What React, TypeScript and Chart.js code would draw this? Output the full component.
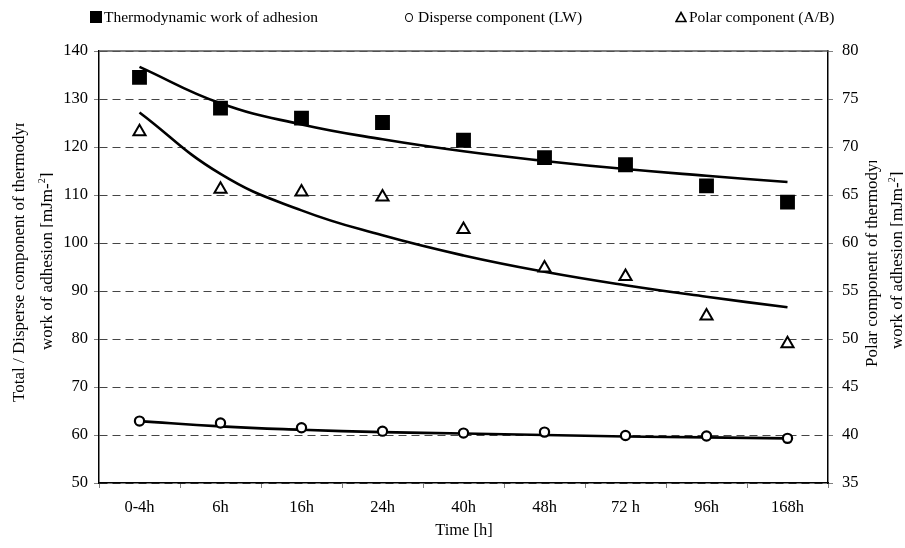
import React, { useEffect, useRef } from "react";
import { Chart, registerables } from "chart.js";

Chart.register(...registerables);

const categories = ["0-4h", "6h", "16h", "24h", "40h", "48h", "72 h", "96h", "168h"];
const totalWork = [134.5, 128.1, 126.0, 125.1, 121.4, 117.8, 116.3, 111.9, 108.5];
const disperseWork = [62.9, 62.5, 61.5, 60.8, 60.4, 60.6, 59.9, 59.8, 59.3];
const polarWork = [71.6, 65.6, 65.3, 64.8, 61.4, 57.4, 56.5, 52.4, 49.5];
const totalTrend = [136.7, 129.1, 124.7, 121.6, 119.1, 117.1, 115.4, 114.0, 112.7];
const disperseTrend = [62.9, 61.8, 61.1, 60.6, 60.3, 60.0, 59.7, 59.5, 59.3];
const polarTrend = [73.6, 67.2, 63.4, 60.8, 58.7, 57.0, 55.6, 54.4, 53.3];
const leftTicks = [50, 60, 70, 80, 90, 100, 110, 120, 130, 140];
const rightTicks = [35, 40, 45, 50, 55, 60, 65, 70, 75, 80];

const legendLabels = ["Thermodynamic work of adhesion", "Disperse component (LW)", "Polar component (A/B)"];
const xTitle = "Time [h]";
const leftTitle1 = "Total / Disperse component of thermodynamic";
const rightTitle1 = "Polar component of thermodynamic";
const titleLine2 = "work of adhesion [mJm-";

const FONT = "'Liberation Serif', 'Times New Roman', serif";

const topBorder = {
  id: "topBorder",
  afterDraw(chart: any) {
    const { ctx, chartArea } = chart;
    ctx.save();
    ctx.strokeStyle = "#555";
    ctx.lineWidth = 1.5;
    ctx.beginPath();
    ctx.moveTo(chartArea.left, chartArea.top);
    ctx.lineTo(chartArea.right, chartArea.top);
    ctx.stroke();
    ctx.restore();
  },
};

export default function App() {
  const ref = useRef<HTMLCanvasElement>(null);

  useEffect(() => {
    if (!ref.current) return;
    const trend = (data: number[], axis: string) => ({
      label: "trend",
      data,
      yAxisID: axis,
      borderColor: "#000",
      borderWidth: 2.6,
      pointRadius: 0,
      tension: 0.45,
      order: 1,
    });
    const chart = new Chart(ref.current, {
      type: "line",
      data: {
        labels: categories,
        datasets: [
          {
            label: legendLabels[0],
            data: totalWork,
            yAxisID: "y",
            showLine: false,
            pointStyle: "rect",
            pointRadius: 10.5,
            pointBackgroundColor: "#000",
            pointBorderColor: "#000",
            pointBorderWidth: 0,
            order: 0,
          },
          {
            label: legendLabels[1],
            data: disperseWork,
            yAxisID: "y",
            showLine: false,
            pointStyle: "circle",
            pointRadius: 4.6,
            pointBackgroundColor: "#fff",
            pointBorderColor: "#000",
            pointBorderWidth: 2.2,
            order: 0,
          },
          {
            label: legendLabels[2],
            data: polarWork,
            yAxisID: "y2",
            showLine: false,
            pointStyle: "triangle",
            pointRadius: 7,
            pointBackgroundColor: "#fff",
            pointBorderColor: "#000",
            pointBorderWidth: 2,
            order: 0,
          },
          trend(totalTrend, "y"),
          trend(disperseTrend, "y"),
          trend(polarTrend, "y2"),
        ],
      },
      options: {
        animation: false,
        responsive: false,
        maintainAspectRatio: false,
        layout: { padding: { top: 51, left: 0, right: 0, bottom: 0 } },
        plugins: { legend: { display: false }, tooltip: { enabled: false }, title: { display: false } },
        scales: {
          x: {
            type: "category",
            offset: true,
            afterFit: (s: any) => {
              s.height = 65;
            },
            grid: { offset: true, drawOnChartArea: false, drawTicks: true, tickLength: 5, color: "#808080" },
            border: { color: "#000", width: 1.5 },
            ticks: { color: "#000", font: { family: FONT, size: 16.5 }, padding: 10, maxRotation: 0, autoSkip: false },
          },
          y: {
            position: "left",
            min: 50,
            max: 140,
            afterFit: (s: any) => {
              s.width = 99;
            },
            afterBuildTicks: (s: any) => {
              s.ticks = leftTicks.map((v) => ({ value: v }));
            },
            grid: { color: "#454545", lineWidth: 1, tickLength: 5, tickColor: "#808080" },
            border: { color: "#000", width: 1.5, dash: [8, 5] },
            ticks: { color: "#000", font: { family: FONT, size: 16.5 }, padding: 6 },
          },
          y2: {
            position: "right",
            min: 35,
            max: 80,
            afterFit: (s: any) => {
              s.width = 77;
            },
            afterBuildTicks: (s: any) => {
              s.ticks = rightTicks.map((v) => ({ value: v }));
            },
            grid: { drawOnChartArea: false, tickLength: 5, color: "#808080" },
            border: { color: "#000", width: 1.5 },
            ticks: { color: "#000", font: { family: FONT, size: 16.5 }, padding: 9 },
          },
        },
      },
      plugins: [topBorder],
    } as any);
    return () => chart.destroy();
  }, []);

  const txt: React.CSSProperties = {
    position: "absolute",
    fontFamily: FONT,
    color: "#000",
    whiteSpace: "nowrap",
  };
  const rot = (left: number, top: number, width: number): React.CSSProperties => ({
    ...txt,
    left,
    top,
    width,
    height: 22,
    lineHeight: "22px",
    fontSize: 17,
    overflow: "hidden",
    transform: "rotate(-90deg)",
    transformOrigin: "0 0",
  });
  const legendText: React.CSSProperties = { ...txt, top: 8, fontSize: 15.5, lineHeight: "18px" };

  return (
    <div style={{ position: "fixed", left: 0, top: 0, width: 905, height: 548, background: "#fff", overflow: "hidden" }}>
      <canvas ref={ref} width={905} height={548} style={{ position: "absolute", left: 0, top: 0, width: 905, height: 548 }} />
      {/* legend */}
      <div style={{ position: "absolute", left: 90, top: 11, width: 12, height: 12, background: "#000" }} />
      <div style={{ ...legendText, left: 104 }}>{legendLabels[0]}</div>
      <div
        style={{
          position: "absolute",
          left: 405,
          top: 13,
          width: 6,
          height: 7,
          border: "1.6px solid #000",
          borderRadius: "50%",
        }}
      />
      <div style={{ ...legendText, left: 418 }}>{legendLabels[1]}</div>
      <svg style={{ position: "absolute", left: 675, top: 11 }} width={12} height={12}>
        <polygon points="6,1.5 11,10.5 1,10.5" fill="#fff" stroke="#000" strokeWidth={1.6} />
      </svg>
      <div style={{ ...legendText, left: 689 }}>{legendLabels[2]}</div>
      {/* axis titles */}
      <div style={rot(8, 402, 279)}>{leftTitle1}</div>
      <div style={rot(31, 350, 220)}>
        {titleLine2}
        <sup style={{ fontSize: 10 }}>2</sup>]
      </div>
      <div style={rot(861, 367, 206)}>{rightTitle1}</div>
      <div style={rot(881, 349, 220)}>
        {titleLine2}
        <sup style={{ fontSize: 10 }}>2</sup>]
      </div>
      <div style={{ ...txt, left: 364, top: 521, width: 200, textAlign: "center", fontSize: 16.5, lineHeight: "18px" }}>
        {xTitle}
      </div>
    </div>
  );
}
